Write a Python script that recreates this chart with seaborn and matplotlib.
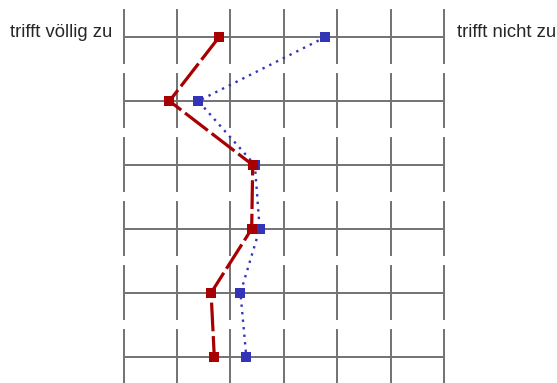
import numpy as np
import pandas as pd
import matplotlib.pyplot as plt
import seaborn as sns

# scale 1..7, six items (rows)
scale_ticks = [1, 2, 3, 4, 5, 6, 7]
items = [1, 2, 3, 4, 5, 6]
red_values = [2.79, 1.86, 3.42, 3.40, 2.64, 2.70]
blue_values = [4.78, 2.40, 3.46, 3.55, 3.19, 3.30]
label_left = "trifft völlig zu"
label_right = "trifft nicht zu"

df = pd.DataFrame({
    "wert": blue_values + red_values,
    "item": items + items,
    "gruppe": ["blau"] * len(items) + ["rot"] * len(items),
})

sns.set_style("white")
plt.rcParams["font.family"] = ["Liberation Sans", "DejaVu Sans"]

fig = plt.figure(figsize=(5.57, 3.83), dpi=100)
ax = fig.add_axes([0, 0, 1, 1])

# grid: horizontal lines per row, vertical segments broken between rows
for row in items:
    ax.hlines(row, scale_ticks[0], scale_ticks[-1], color="#727272", lw=1.4, zorder=1)
    ax.vlines(scale_ticks, row - 0.44, row + 0.42, color="#727272", lw=1.4, zorder=1)

sns.lineplot(
    data=df, x="wert", y="item", hue="gruppe", style="gruppe",
    palette={"blau": "#3434b8", "rot": "#a80000"},
    dashes={"blau": (1, 2.2), "rot": (9, 1.5)},
    markers={"blau": "s", "rot": "s"},
    markersize=6.5, markeredgewidth=0,
    orient="y", sort=False, legend=False, ax=ax,
    hue_order=["blau", "rot"],
)
for line in ax.get_lines():
    if line.get_color() == "#3434b8":
        line.set_linewidth(1.7)
        line.set_dash_capstyle("butt")
    else:
        line.set_linewidth(2.3)

ax.text(0.78, 1.0, label_left, ha="right", va="baseline", fontsize=13.3)
ax.text(7.25, 1.0, label_right, ha="left", va="baseline", fontsize=13.3)

ax.set_xlim(-1.313, 9.118)
ax.set_ylim(6.41, 0.42)
ax.axis("off")

fig.savefig("out.png", dpi=100)
